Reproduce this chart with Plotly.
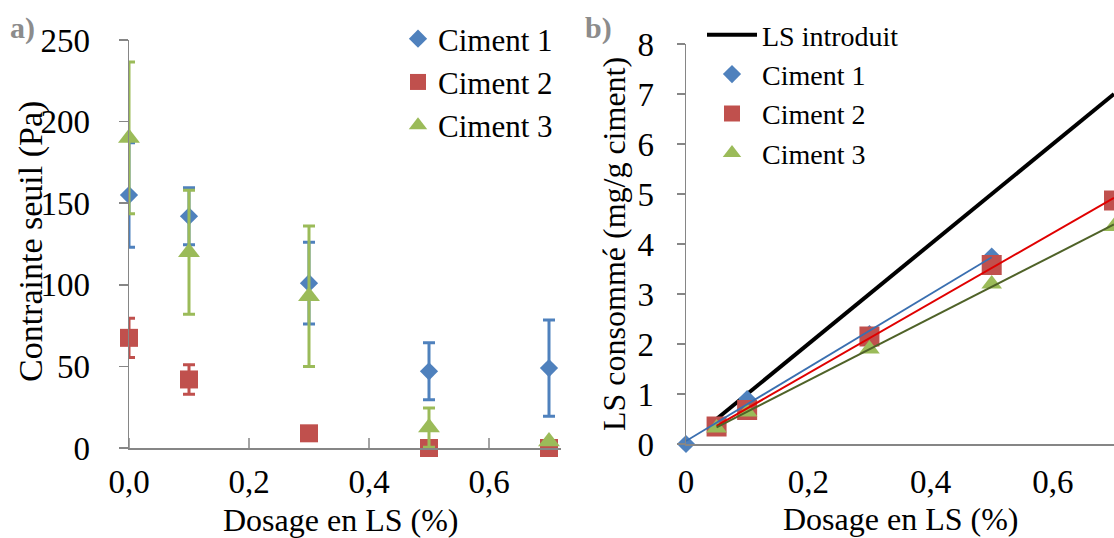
import numpy as np
import plotly.graph_objects as go

# ---------------- data ----------------
# Panel a) : yield stress vs LS dosage
dose_a = [0.0, 0.1, 0.3, 0.5, 0.7]
c1_tau = [155, 142, 101, 47, 49]
c1_err = [32, 17.5, 25, 17.5, 29.5]
c2_tau = [67.5, 42, 9, 0, 0]
c2_err = [12, 9, 0, 0, 0]
c3_tau = [190, 120, 93, 12.5, 4]
c3_err = [46.5, 38, 43, 12, 0]

# Panel b) : consumed LS vs LS dosage
dose_intro = [0.05, 0.1, 0.3, 0.5, 0.7]
ls_intro = [0.5, 1.0, 3.0, 5.0, 7.0]
dose_c1 = [0.0, 0.1, 0.3, 0.5]
ls_c1 = [0.0, 0.9, 2.2, 3.75]
dose_c23 = [0.05, 0.1, 0.3, 0.5, 0.7]
ls_c2 = [0.35, 0.68, 2.15, 3.58, 4.87]
ls_c3 = [0.32, 0.64, 1.9, 3.2, 4.35]

a_ticks = [0.0, 0.2, 0.4, 0.6]
a_minor = [0.1, 0.3, 0.5, 0.7]
b_ticks = [0, 0.2, 0.4, 0.6]

# ---------------- style ----------------
W, H = 1114, 538
FONT = "Liberation Serif"
BLUE, RED, GREEN = "#4f81bd", "#c0504d", "#9bbb59"
BLUE_L, RED_L, GREEN_L = "#3a6fb0", "#e00000", "#4f6228"
AX = "#868686"


def px(x):
    return x / W


def py(y):
    return 1 - y / H


fig = go.Figure()

# panel a
for name, y, e, col, sym, size in [
    ("Ciment 1", c1_tau, c1_err, BLUE, "diamond", 14),
    ("Ciment 2", c2_tau, c2_err, RED, "square", 18),
    ("Ciment 3", c3_tau, c3_err, GREEN, "triangle-up", 19),
]:
    fig.add_trace(go.Scatter(
        x=dose_a, y=y, mode="markers", name=name, cliponaxis=False,
        marker=dict(symbol=sym, size=size, color=col, line=dict(width=0)),
        error_y=dict(type="data", array=e, symmetric=True, color=col, thickness=3, width=6),
        xaxis="x", yaxis="y", legend="legend",
    ))

# panel b
fig.add_trace(go.Scatter(
    x=dose_intro, y=ls_intro, mode="lines", name="LS introduit",
    line=dict(color="black", width=4), xaxis="x2", yaxis="y2", legend="legend2",
))
for name, xs, ys, col, sym, size in [
    ("Ciment 1", dose_c1, ls_c1, BLUE, "diamond", 14),
    ("Ciment 2", dose_c23, ls_c2, RED, "square", 20),
    ("Ciment 3", dose_c23, ls_c3, GREEN, "triangle-up", 18),
]:
    fig.add_trace(go.Scatter(
        x=xs, y=ys, mode="markers", name=name, cliponaxis=False,
        marker=dict(symbol=sym, size=size, color=col, line=dict(width=0)),
        xaxis="x2", yaxis="y2", legend="legend2",
    ))
# linear trendlines (computed from the data)
for xs, ys, col, w in [
    (dose_c1, ls_c1, BLUE_L, 1.8),
    (dose_c23, ls_c2, RED_L, 2),
    (dose_c23, ls_c3, GREEN_L, 2),
]:
    k, b = np.polyfit(xs, ys, 1)
    xe = [min(xs), max(xs)]
    fig.add_trace(go.Scatter(
        x=xe, y=[k * v + b for v in xe], mode="lines", showlegend=False,
        line=dict(color=col, width=w), xaxis="x2", yaxis="y2", hoverinfo="skip",
    ))

tickfont = dict(family=FONT, size=33, color="black")
common = dict(showline=True, linecolor=AX, linewidth=1.5, tickcolor=AX, tickwidth=1.5,
              showgrid=False, zeroline=False, tickfont=tickfont, fixedrange=True,
              automargin=False)

fig.update_layout(
    template="none",
    width=W, height=H, autosize=False,
    margin=dict(l=0, r=0, t=0, b=0, pad=0),
    paper_bgcolor="white", plot_bgcolor="rgba(0,0,0,0)",
    separators=", ",
    font=dict(family=FONT, size=32, color="black"),
    xaxis=dict(domain=[px(129), px(561)], range=[0, 0.72], anchor="y",
               tickvals=a_ticks, tickformat=".1f", ticks="",
               ticklabelstandoff=4, **common),
    yaxis=dict(domain=[py(448), py(40)], range=[0, 250], anchor="x", dtick=50,
               ticks="outside", ticklen=9, ticklabelstandoff=22, **common),
    xaxis2=dict(domain=[px(686), 1.0], range=[0, 0.7], anchor="y2",
                tickvals=b_ticks, ticks="", ticklabelstandoff=8, **common),
    yaxis2=dict(domain=[py(444), py(44)], range=[0, 8], anchor="x2", dtick=1,
                ticks="outside", ticklen=8, ticklabelstandoff=16, **common),
    legend=dict(x=px(398), y=py(12), xanchor="left", yanchor="top",
                bgcolor="rgba(0,0,0,0)", borderwidth=0,
                font=dict(family=FONT, size=31, color="black"), tracegroupgap=0),
    legend2=dict(x=px(702), y=py(10), xanchor="left", yanchor="top",
                 bgcolor="rgba(0,0,0,0)", borderwidth=0, itemwidth=50,
                 font=dict(family=FONT, size=28, color="black"), tracegroupgap=0),
    showlegend=True,
)

# x tick marks drawn at the tick values through the axis scale
# (panel a: crossing major ticks + small minor ticks; panel b: outside ticks)
tick_line = dict(color=AX, width=1.5)
for t in a_ticks:
    fig.add_shape(type="line", xref="x", yref="y", x0=t, x1=t,
                  ysizemode="pixel", yanchor=0, y0=-10, y1=10, line=tick_line)
for t in a_minor:
    fig.add_shape(type="line", xref="x", yref="y", x0=t, x1=t,
                  ysizemode="pixel", yanchor=0, y0=-6, y1=0, line=tick_line)
for t in b_ticks:
    fig.add_shape(type="line", xref="x2", yref="y2", x0=t, x1=t,
                  ysizemode="pixel", yanchor=0, y0=-8, y1=0, line=tick_line)

ann = [
    dict(text="<b>a)</b>", x=px(22), y=py(28), font=dict(size=30, color="#8c8c8c")),
    dict(text="<b>b)</b>", x=px(598), y=py(28), font=dict(size=30, color="#8c8c8c")),
    dict(text="Contrainte seuil (Pa)", x=px(31), y=py(242), textangle=-90,
         font=dict(size=34)),
    dict(text="LS consommé (mg/g ciment)", x=px(614), y=py(244), textangle=-90),
    dict(text="Dosage en LS (%)", x=px(340), y=py(520)),
    dict(text="Dosage en LS (%)", x=px(900), y=py(519)),
]
for a in ann:
    f = a.pop("font", {})
    fig.add_annotation(xref="paper", yref="paper", xanchor="center", yanchor="middle",
                       showarrow=False,
                       font=dict(family=FONT, size=f.get("size", 32), color=f.get("color", "black")),
                       **a)

fig.write_html("out.html", config={"displayModeBar": False, "staticPlot": True},
               post_script="document.body.style.margin='0';document.body.style.padding='0';")
